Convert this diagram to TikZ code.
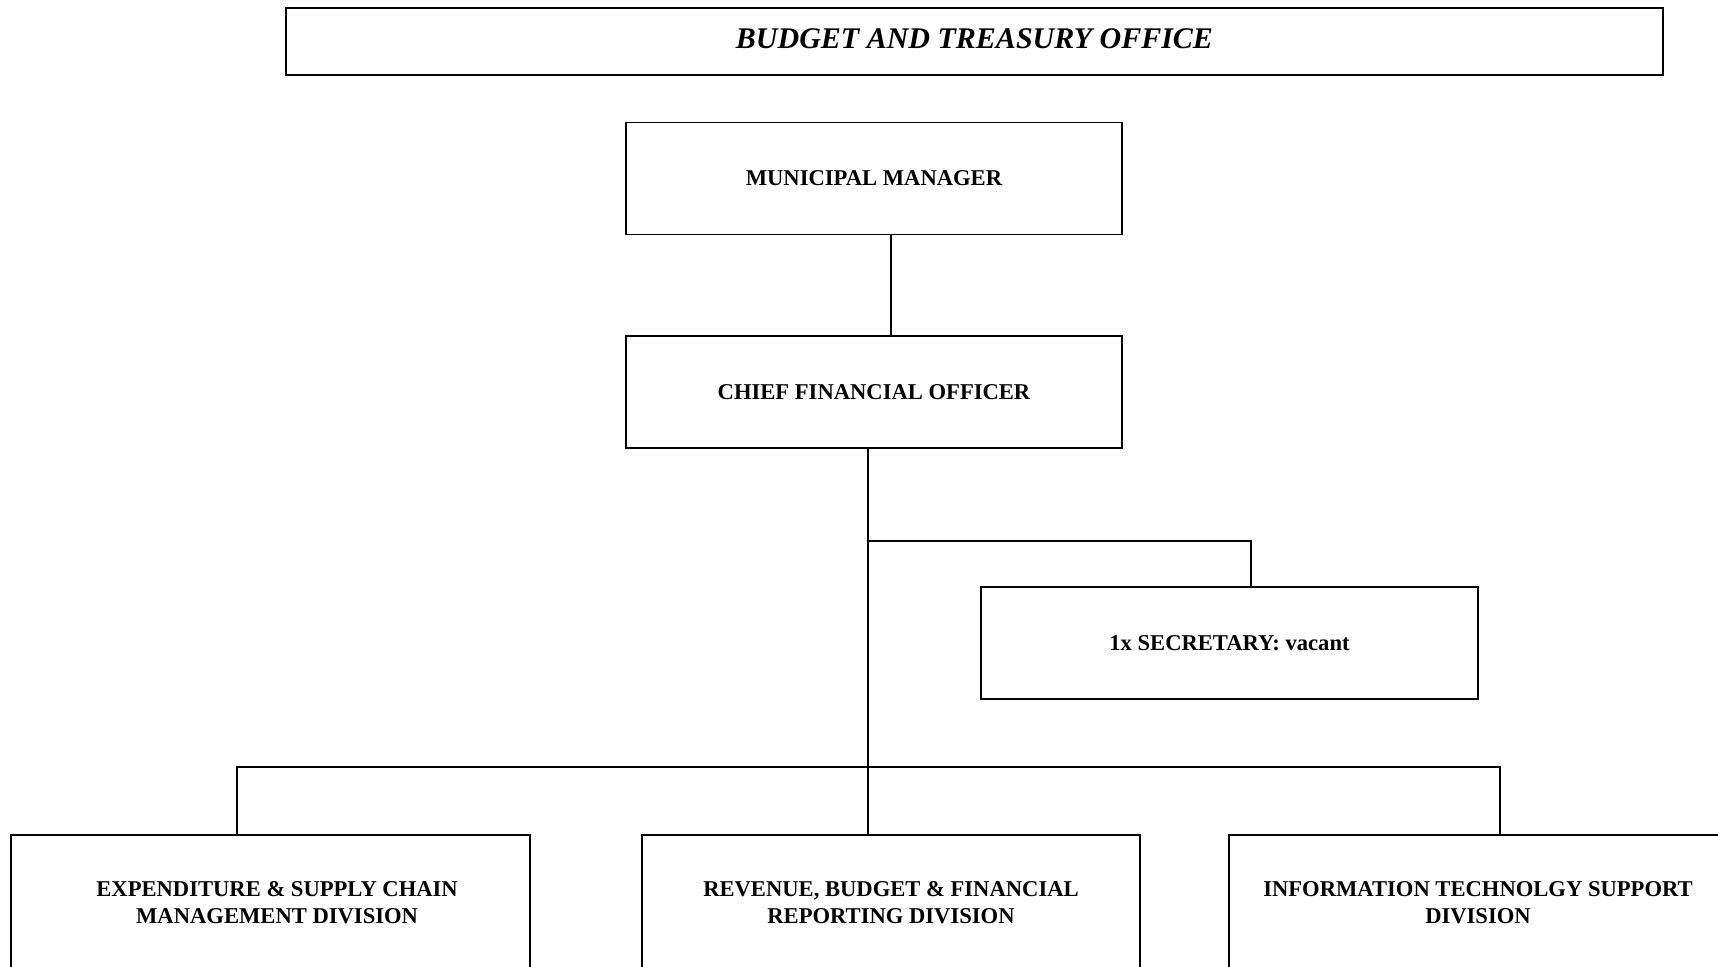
\documentclass[tikz,border=0pt]{standalone}
\usepackage{fontspec}
\setmainfont{Liberation Serif}
\usepackage{tikz}

\begin{document}
\begin{tikzpicture}[line cap=rect,line join=miter,x=0.5pt,y=-0.5pt,
	unitbox/.style={draw,line width=0.9pt,minimum width=248pt,minimum height=56pt,inner sep=0pt,align=center,font=\fontsize{11.3}{13.5}\selectfont\bfseries},
	link/.style={line width=0.9pt}]
	\useasboundingbox (0,0) rectangle (1718,967);
	\clip (0,0) rectangle (1718,967);
	\node[draw,line width=0.9pt,minimum width=688.5pt,minimum height=33.5pt,inner sep=0pt,font=\fontsize{15}{18}\selectfont\bfseries\itshape] (title) at (974.5,41.5) {\raisebox{3.4pt}{BUDGET AND TREASURY OFFICE}};
	\node[unitbox] (mm) at (874,178.5) {MUNICIPAL MANAGER};
	\node[unitbox] (cfo) at (874,392) {CHIEF FINANCIAL OFFICER};
	\node[unitbox,minimum width=248.5pt] (sec) at (1229.5,643) {1x SECRETARY: vacant};
	\node[unitbox,minimum width=259.5pt,minimum height=68pt] (exp) at (270.5,903) {\hspace*{6.6pt}EXPENDITURE \& SUPPLY CHAIN\\\hspace*{6.6pt}MANAGEMENT DIVISION};
	\node[unitbox,minimum width=249pt,minimum height=68pt] (rev) at (891,903) {REVENUE, BUDGET \& FINANCIAL\\REPORTING DIVISION};
	\node[unitbox,minimum width=249pt,minimum height=68pt] (it) at (1478,903) {INFORMATION TECHNOLGY SUPPORT\\DIVISION};
	\coordinate (trunk) at (868,767);
	\coordinate (secbranch) at (868,541);
	\draw[link] ([xshift=8.5pt]mm.south) -- ([xshift=8.5pt]cfo.north);
	\draw[link] ([xshift=-3pt]cfo.south) -- (trunk);
	\draw[link] (secbranch) -| ([xshift=10.75pt]sec.north);
	\draw[link] (trunk -| 237,0) -- (trunk -| 1500,0);
	\draw[link] (trunk -| 237,0) -- (exp.north -| 237,0);
	\draw[link] (trunk) -- (rev.north -| trunk);
	\draw[link] (trunk -| 1500,0) -- (it.north -| 1500,0);
\end{tikzpicture}
\end{document}
